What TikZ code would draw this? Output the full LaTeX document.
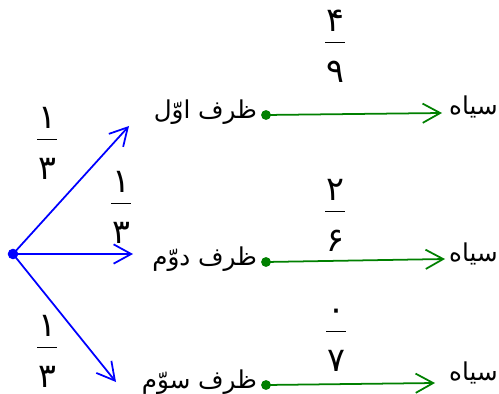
\documentclass[tikz,border=0pt]{standalone}
\usepackage{fontspec}
\usepackage{tikz}
\usetikzlibrary{arrows.meta,positioning}
\newfontfamily\farsi[Script=Arabic]{DejaVu Sans}
\TeXXeTstate=1
\definecolor{sabz}{rgb}{0,0.5,0}
\newcommand{\fa}[1]{\beginR #1\endR}
\newcommand{\kasr}[2]{{\fontsize{19}{21}\selectfont\begin{tabular}{@{}c@{}}#1\\[-9pt]\rule[5pt]{11pt}{0.8pt}\\[-4pt]#2\\[-6pt]\end{tabular}}}

\begin{document}
\begin{tikzpicture}[x=0.02cm, y=-0.02cm,
  >={Straight Barb[length=10pt,width=11pt]},
  every node/.style={font=\farsi\fontsize{14}{16}\selectfont},
  branch/.style={->, blue, line width=1pt},
  leaf/.style={->, sabz, line width=1pt}]
\useasboundingbox (0,0) rectangle (499,394);
\fill[blue] (13,254) coordinate (o) circle (3pt);
\foreach \i/\y/\w/\ax/\ay/\tx/\ty/\sy in {1/115/اوّل/129/126/442/113/115,
    2/262/دوّم/133/254/445/259/261,
    3/385/سوّم/116/382/435/383/380} {
  \fill[sabz] (266,\y) coordinate (d\i) circle (2.8pt);
  \node[anchor=base east, inner sep=0pt, xshift=-5pt, yshift=-2pt] (z\i) at (d\i) {\fa{ظرف \w}};
  \node[anchor=base east, inner sep=0pt] (s\i) at (498,\sy) {\fa{سیاه}};
  \coordinate (a\i) at (\ax,\ay);
  \coordinate (t\i) at (\tx,\ty);
  \draw[branch] (o) -- (a\i);
  \draw[leaf] (d\i) -- (t\i);
}
\node[inner sep=0pt] (p1) at (47,141) {\kasr{۱}{۳}};
\node[inner sep=0pt] (p2) at (121,205) {\kasr{۱}{۳}};
\node[inner sep=0pt] (p3) at (47,349) {\kasr{۱}{۳}};
\node[inner sep=0pt] (q1) at (335,44) {\kasr{۴}{۹}};
\node[inner sep=0pt] (q2) at (335,213) {\kasr{۲}{۶}};
\node[inner sep=0pt] (q3) at (336,333) {\kasr{۰}{۷}};
\end{tikzpicture}
\end{document}
